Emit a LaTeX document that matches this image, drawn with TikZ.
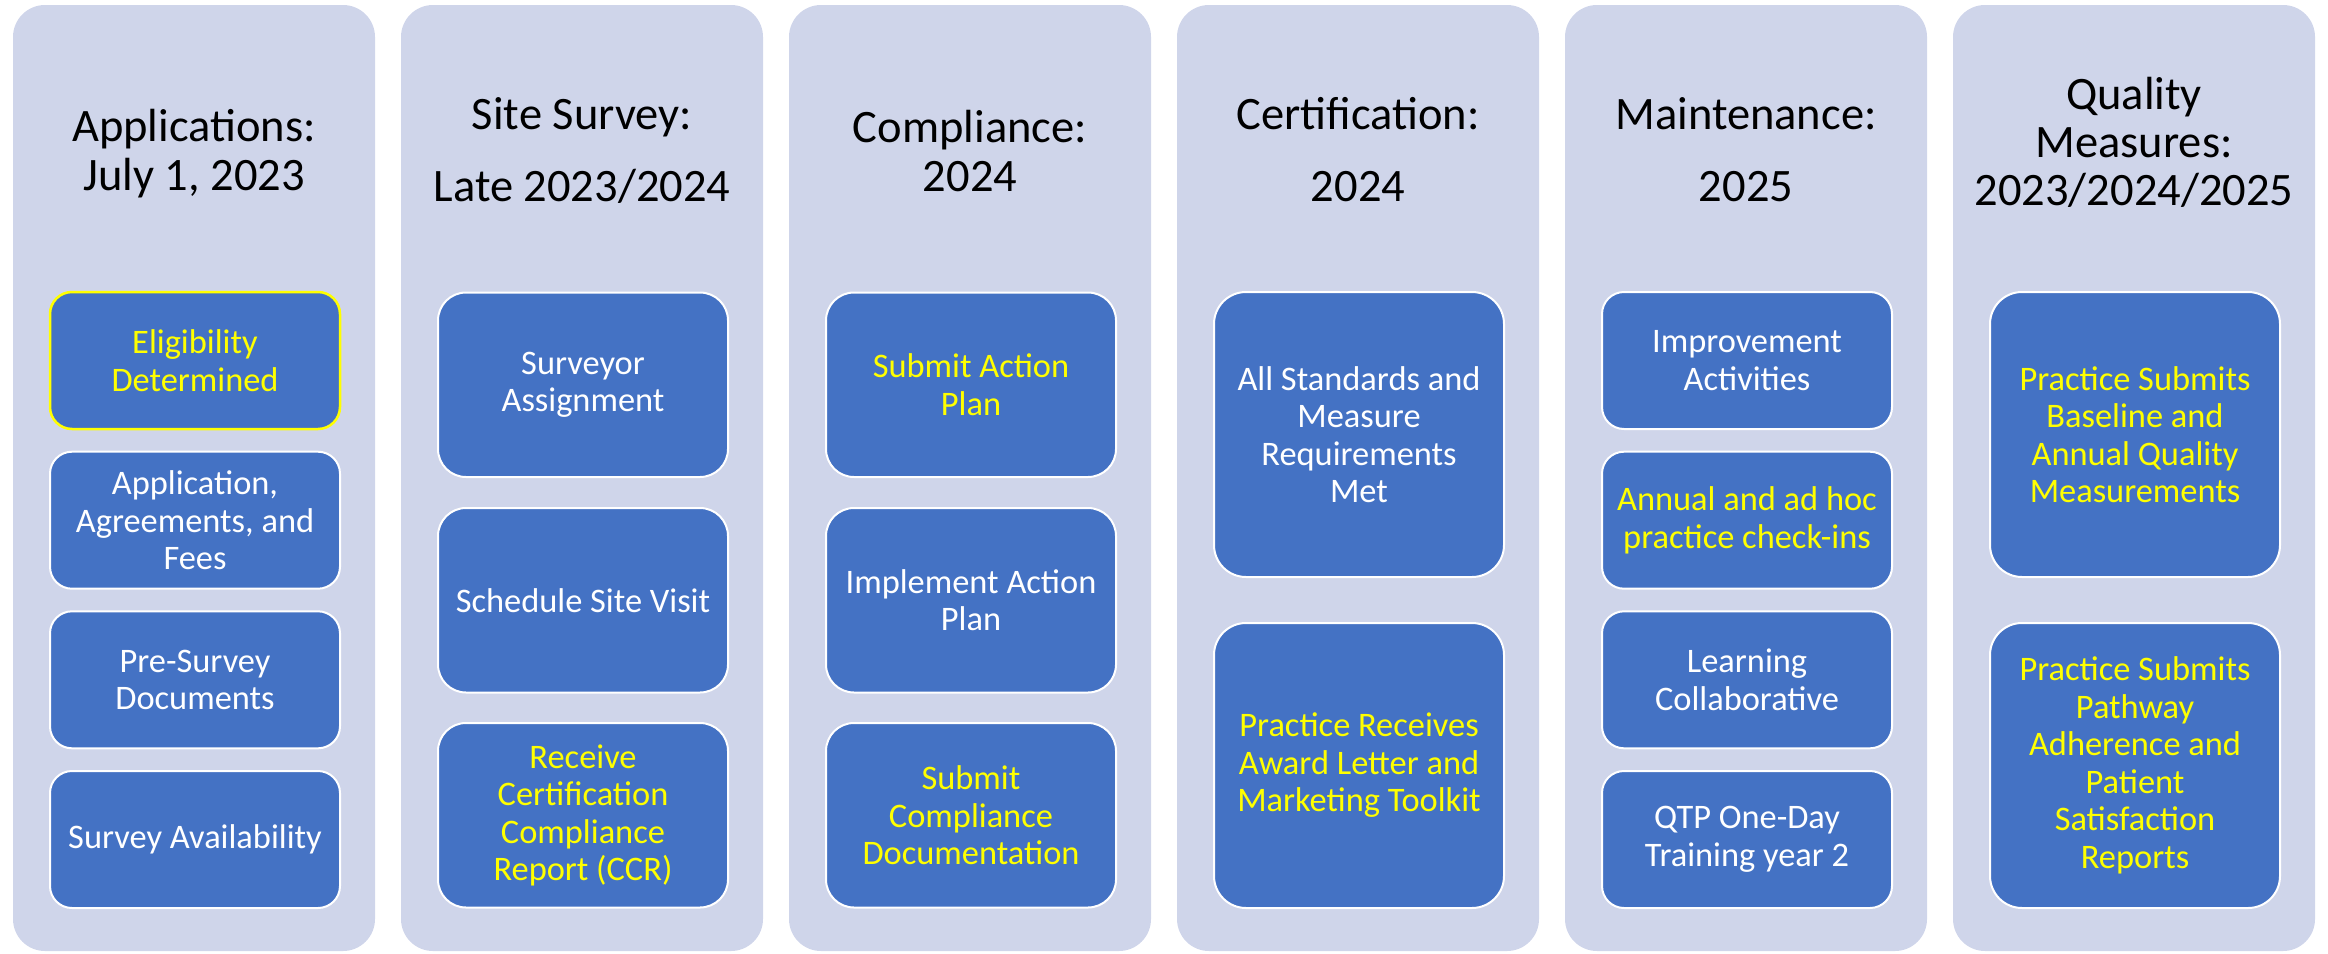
\documentclass[tikz,border=0pt]{standalone}
\usepackage{fontspec}
\setmainfont{Carlito}
\definecolor{panelfill}{HTML}{CFD5EA}
\definecolor{boxfill}{HTML}{4472C4}
\definecolor{hiyellow}{HTML}{FFFF00}
\begin{document}
\begin{tikzpicture}[x=0.5pt,y=-0.5pt,
  panel/.style={fill=panelfill, draw=none, rounded corners=16pt},
  title/.style={align=center, text=black, inner sep=0pt, font=\fontsize{23.25}{24.5}\selectfont},
  titlewide/.style={title, font=\fontsize{23.25}{36}\selectfont},
  titlethree/.style={title, font=\fontsize{23.25}{24}\selectfont},
  card/.style={fill=boxfill, draw=white, line width=1pt, minimum width=145pt, align=center, inner sep=0pt, font=\fontsize{17.2}{18.75}\selectfont},
  cardS/.style={card, minimum height=68.5pt, rounded corners=11pt},
  cardM/.style={card, minimum height=92.25pt, rounded corners=14pt},
  cardL/.style={card, minimum height=142.5pt, rounded corners=16pt},
  wt/.style={text=white},
  yt/.style={text=hiyellow},
  ybord/.style={draw=hiyellow, line width=1.25pt}]
\useasboundingbox (0,0) rectangle (2328,953);

% panels
\path[panel] (13,5) rectangle (375,951);
\path[panel] (401,5) rectangle (763,951);
\path[panel] (789,5) rectangle (1151,951);
\path[panel] (1177,5) rectangle (1539,951);
\path[panel] (1565,5) rectangle (1927,951);
\path[panel] (1953,5) rectangle (2315,951);

% titles
\node[title] (t1) at (194,154) {Applications:\\July 1, 2023};
\node[titlewide] (t2) at (582,150) {Site Survey:\\Late 2023/2024};
\node[title] (t3) at (970,151) {Compliance:\\2024};
\node[titlewide] (t4) at (1358,150) {Certification:\\2024};
\node[titlewide] (t5) at (1746,150) {Maintenance:\\2025};
\node[titlethree] (t6) at (2134,142) {Quality\\Measures:\\2023/2024/2025};

% column 1
\node[cardS, yt, ybord] (a1) at (195,360.5) {Eligibility\\Determined};
\node[cardS, wt] (a2) at (195,520.2) {Application,\\Agreements, and\\Fees};
\node[cardS, wt] (a3) at (195,679.8) {Pre-Survey\\Documents};
\node[cardS, wt] (a4) at (195,839.5) {Survey Availability};

% column 2
\node[cardM, wt] (b1) at (583,384.75) {Surveyor\\Assignment};
\node[cardM, wt] (b2) at (583,600.25) {Schedule Site Visit};
\node[cardM, yt] (b3) at (583,815.25) {Receive\\Certification\\Compliance\\Report (CCR)};

% column 3
\node[cardM, yt] (c1) at (971,384.75) {Submit Action\\Plan};
\node[cardM, wt] (c2) at (971,600.25) {Implement Action\\Plan};
\node[cardM, yt] (c3) at (971,815.25) {Submit\\Compliance\\Documentation};

% column 4
\node[cardL, wt] (d1) at (1359,434.5) {All Standards and\\Measure\\Requirements\\Met};
\node[cardL, yt] (d2) at (1359,765.5) {Practice Receives\\Award Letter and\\Marketing Toolkit};

% column 5
\node[cardS, wt] (e1) at (1747,360.5) {Improvement\\Activities};
\node[cardS, yt] (e2) at (1747,520.2) {Annual and ad hoc\\practice check-ins};
\node[cardS, wt] (e3) at (1747,679.8) {Learning\\Collaborative};
\node[cardS, wt] (e4) at (1747,839.5) {QTP One-Day\\Training year 2};

% column 6
\node[cardL, yt] (f1) at (2135,434.5) {Practice Submits\\Baseline and\\Annual Quality\\Measurements};
\node[cardL, yt] (f2) at (2135,765.5) {Practice Submits\\Pathway\\Adherence and\\Patient\\Satisfaction\\Reports};
\end{tikzpicture}
\end{document}
